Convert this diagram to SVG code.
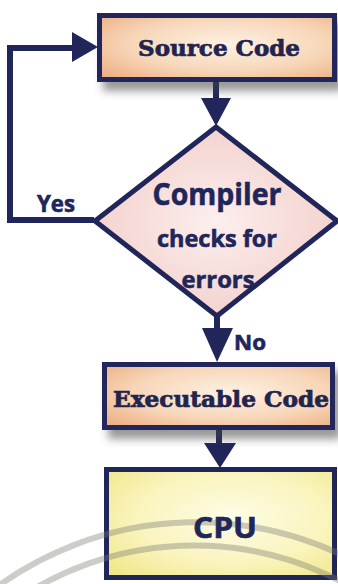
<svg xmlns="http://www.w3.org/2000/svg" width="338" height="584" viewBox="0 0 338 584">
  <style>
    .edge { fill: none; stroke: #20265a; stroke-width: 6; stroke-linejoin: miter; }
    .head { fill: #20265a; }
    .box { stroke: #20265a; stroke-width: 5; }
    .serif { font-family: "DejaVu Serif", "Liberation Serif", serif; font-weight: bold; fill: #22244e; stroke: #22244e; stroke-width: 0.7; }
    .sans { font-family: "Open Sans", "DejaVu Sans", sans-serif; font-weight: bold; fill: #20265a; stroke: #20265a; stroke-width: 0.6; }
    .arc { fill: none; stroke: #7a7a70; stroke-opacity: 0.38; stroke-width: 6; }
  </style>
  <defs>
    <radialGradient id="peach" cx="0.55" cy="0.45" r="0.7">
      <stop offset="0" stop-color="#fdf1e4"/>
      <stop offset="0.6" stop-color="#f7d6b8"/>
      <stop offset="1" stop-color="#eeb287"/>
    </radialGradient>
    <radialGradient id="pink" cx="0.5" cy="0.5" r="0.6">
      <stop offset="0" stop-color="#fcefee"/>
      <stop offset="1" stop-color="#f2cdc8"/>
    </radialGradient>
    <radialGradient id="lemon" cx="0.55" cy="0.45" r="0.7">
      <stop offset="0" stop-color="#fefce6"/>
      <stop offset="0.6" stop-color="#faf4bd"/>
      <stop offset="1" stop-color="#f1e88e"/>
    </radialGradient>
    <filter id="shadow" x="-10%" y="-20%" width="130%" height="160%">
      <feDropShadow dx="6" dy="9" stdDeviation="4" flood-color="#444" flood-opacity="0.55"/>
    </filter>
  </defs>

  <rect width="338" height="584" fill="#ffffff"/>

  <!-- flow lines and arrowheads -->
  <g id="connectors">
    <line class="edge" x1="216" y1="80" x2="216" y2="100"/>
    <polygon class="head" points="201,98 231,98 216,126"/>

    <polyline class="edge" points="94,220 10,220 10,48 74,48"/>
    <polygon class="head" points="72,32 72,62 98,47"/>

    <line class="edge" x1="217" y1="314" x2="217" y2="330"/>
    <polygon class="head" points="202,328 233,328 217,362"/>

    <line class="edge" x1="219" y1="428" x2="219" y2="445"/>
    <polygon class="head" points="204,443 236,443 220,468"/>
  </g>

  <g id="source-code">
    <rect class="box" x="99.5" y="15.5" width="235" height="64" fill="url(#peach)" filter="url(#shadow)"/>
    <text class="serif" x="219" y="56" font-size="23" text-anchor="middle" textLength="162" lengthAdjust="spacingAndGlyphs">Source Code</text>
  </g>

  <g id="compiler-check">
    <polygon class="box" points="216,127 95,221 217,316 337,221" fill="url(#pink)" stroke-linejoin="miter"/>
    <text class="sans" x="217" y="205" font-size="31" text-anchor="middle" textLength="129" lengthAdjust="spacingAndGlyphs">Compiler</text>
    <text class="sans" x="217" y="247" font-size="23" text-anchor="middle" textLength="120" lengthAdjust="spacingAndGlyphs">checks for</text>
    <text class="sans" x="218" y="288" font-size="23" text-anchor="middle" textLength="73" lengthAdjust="spacingAndGlyphs">errors</text>
  </g>

  <g id="labels">
    <text class="sans" x="56" y="212" font-size="23" text-anchor="middle" textLength="38" lengthAdjust="spacingAndGlyphs">Yes</text>
    <text class="sans" x="234" y="350" font-size="21" textLength="32" lengthAdjust="spacingAndGlyphs">No</text>
  </g>

  <g id="executable-code">
    <rect class="box" x="104.5" y="364.5" width="228" height="63" fill="url(#peach)" filter="url(#shadow)"/>
    <text class="serif" x="221" y="407" font-size="22" text-anchor="middle" textLength="216" lengthAdjust="spacingAndGlyphs">Executable Code</text>
  </g>

  <g id="cpu">
    <rect class="box" x="106.5" y="469.5" width="228" height="108" fill="url(#lemon)"/>
    <path class="arc" d="M -20 600 A 340 340 0 0 1 400 590"/>
    <path class="arc" d="M -10 620 A 317 317 0 0 1 420 640"/>
    <text class="sans" x="225" y="538" font-size="28" text-anchor="middle" textLength="64" lengthAdjust="spacingAndGlyphs">CPU</text>
  </g>
</svg>
